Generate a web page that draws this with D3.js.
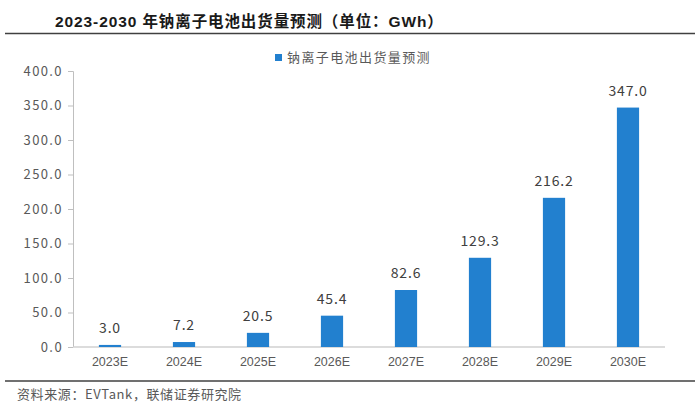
<!DOCTYPE html>
<meta charset="utf-8">
<style>
  body { margin: 0; background: #fff; }
  .title { font-family: 'Liberation Sans', 'Noto Sans CJK SC', sans-serif; font-weight: bold; font-size: 15.5px; fill: #1a1a1a; }
  .tick text { font-family: 'Noto Sans CJK SC', sans-serif; font-size: 13px; fill: #595959; }
  .xaxis .tick text { font-family: 'Liberation Sans', sans-serif; font-size: 12.5px; }
  .val { font-family: 'Noto Sans CJK SC', sans-serif; font-size: 14px; fill: #404040; }
  .legend, .source { font-family: 'Noto Sans CJK SC', sans-serif; font-size: 13px; fill: #595959; }
</style>
<body>
<script src="https://d3js.org/d3.v7.min.js"></script>
<script>
// chart data
var years = ["2023E", "2024E", "2025E", "2026E", "2027E", "2028E", "2029E", "2030E"];
var shipments = [3.0, 7.2, 20.5, 45.4, 82.6, 129.3, 216.2, 347.0];
var yTicks = [0, 50, 100, 150, 200, 250, 300, 350, 400];
var seriesName = "钠离子电池出货量预测";

var W = 700, H = 412;
var margin = { top: 71, right: 35, bottom: 65, left: 73 },
  width = W - margin.left - margin.right,
  height = H - margin.top - margin.bottom;

var svg = d3.select("body").append("svg")
  .attr("width", W)
  .attr("height", H);

// title and rules
svg.append("text").attr("class", "title")
  .attr("x", 55).attr("y", 27).attr("letter-spacing", 0.9)
  .text("2023-2030 年钠离子电池出货量预测（单位：GWh）");
svg.append("line")
  .attr("x1", 5).attr("x2", 695).attr("y1", 33.5).attr("y2", 33.5)
  .attr("stroke", "#404040").attr("stroke-width", 1.5);
svg.append("line")
  .attr("x1", 5).attr("x2", 695).attr("y1", 381).attr("y2", 381)
  .attr("stroke", "#404040").attr("stroke-width", 1.5);
svg.append("text").attr("class", "source")
  .attr("x", 17).attr("y", 399).attr("letter-spacing", 0.6)
  .text("资料来源：EVTank，联储证券研究院");

// legend
svg.append("rect").attr("x", 275).attr("y", 54).attr("width", 7).attr("height", 7)
  .attr("fill", "#2280CF");
svg.append("text").attr("class", "legend")
  .attr("x", 287).attr("y", 62).attr("letter-spacing", 1.4)
  .text(seriesName);

var g = svg.append("g")
  .attr("transform", "translate(" + margin.left + "," + margin.top + ")");

var x = d3.scaleBand().domain(years).range([0, width]).paddingInner(0.7).paddingOuter(0.35);
var y = d3.scaleLinear().domain([0, 400]).range([height, 0]);

// y axis
var ya = g.append("g")
  .call(d3.axisLeft(y).tickValues(yTicks).tickSize(5).tickPadding(5)
    .tickFormat(d3.format(".1f")));
ya.selectAll("line, path").attr("stroke", "#bfbfbf");
ya.select(".domain").attr("d", "M-5,0.5H0.5V" + height);
ya.selectAll(".tick text").attr("letter-spacing", 1.4);

// x axis
var xa = g.append("g").attr("class", "xaxis")
  .attr("transform", "translate(0," + height + ")")
  .call(d3.axisBottom(x).tickSize(0).tickPadding(10));
xa.select(".domain").attr("stroke", "#d0d0d0").attr("stroke-width", 1.5)
  .attr("d", "M0,0H" + width);

// bars
var data = years.map(function (d, i) { return { year: d, value: shipments[i] }; });
g.selectAll(".bar").data(data).join("rect")
  .attr("class", "bar")
  .attr("x", function (d) { return x(d.year); })
  .attr("width", x.bandwidth())
  .attr("y", function (d) { return y(d.value); })
  .attr("height", function (d) { return height - y(d.value); })
  .attr("fill", "#2280CF");

// value labels
g.selectAll(".val").data(data).join("text")
  .attr("class", "val")
  .attr("text-anchor", "middle")
  .attr("letter-spacing", 0.8)
  .attr("x", function (d) { return x(d.year) + x.bandwidth() / 2; })
  .attr("y", function (d) { return y(d.value) - 12; })
  .text(function (d) { return d.value.toFixed(1); });
</script>
</body>
